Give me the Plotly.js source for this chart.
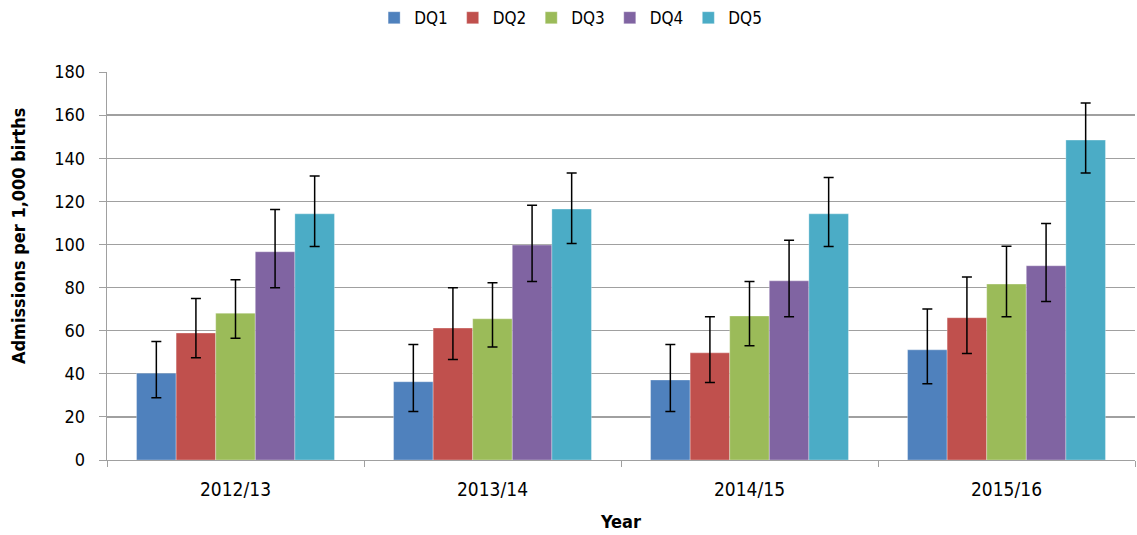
<!DOCTYPE html>
<html>
<head>
<meta charset="utf-8">
<script src="https://cdn.plot.ly/plotly-3.0.1.min.js"></script>
<style>
  html, body { margin: 0; padding: 0; background: #fff; }
  #chart { width: 1137px; height: 535px; }
</style>
</head>
<body>
<div id="chart"></div>
<script>
// ── data ────────────────────────────────────────────────────
const years = ['2012/13', '2013/14', '2014/15', '2015/16'];
const seriesNames = ['DQ1', 'DQ2', 'DQ3', 'DQ4', 'DQ5'];

const dq1 = [40.3, 36.3, 37.1, 51.1];
const dq2 = [58.9, 61.2, 49.7, 66.0];
const dq3 = [68.1, 65.5, 66.8, 81.6];
const dq4 = [96.6, 99.7, 83.1, 90.1];
const dq5 = [114.2, 116.4, 114.2, 148.4];

// upper / lower confidence limits
const dq1Upper = [55.0, 53.6, 53.6, 70.1];
const dq1Lower = [28.9, 22.5, 22.5, 35.4];
const dq2Upper = [74.9, 79.9, 66.4, 84.9];
const dq2Lower = [47.4, 46.6, 36.0, 49.4];
const dq3Upper = [83.6, 82.2, 82.8, 99.2];
const dq3Lower = [56.5, 52.4, 53.0, 66.4];
const dq4Upper = [116.2, 118.2, 102.0, 109.7];
const dq4Lower = [79.9, 82.8, 66.4, 73.5];
const dq5Upper = [131.8, 133.2, 131.0, 165.6];
const dq5Lower = [99.0, 100.4, 99.0, 133.2];

const yTicks = [0, 20, 40, 60, 80, 100, 120, 140, 160, 180];

// ── styling ─────────────────────────────────────────────────
const COLORS = ['#4F81BD', '#C0504D', '#9BBB59', '#8064A2', '#4BACC6'];
const FONT = '"Liberation Sans Narrow", "DejaVu Sans Condensed", "Open Sans", sans-serif';
const GRID = '#a0a0a0';

const values = [dq1, dq2, dq3, dq4, dq5];
const uppers = [dq1Upper, dq2Upper, dq3Upper, dq4Upper, dq5Upper];
const lowers = [dq1Lower, dq2Lower, dq3Lower, dq4Lower, dq5Lower];

const traces = seriesNames.map((name, i) => ({
  type: 'bar',
  name,
  x: years,
  y: values[i],
  marker: { color: COLORS[i], line: { color: 'rgba(255,255,255,0.6)', width: 0.5 } },
  error_y: {
    type: 'data',
    symmetric: false,
    array: uppers[i].map((u, j) => u - values[i][j]),
    arrayminus: values[i].map((v, j) => v - lowers[i][j]),
    color: '#000',
    thickness: 1.5,
    width: 5,
  },
}));

const layout = {
  width: 1137,
  height: 535,
  paper_bgcolor: '#fff',
  plot_bgcolor: '#fff',
  font: { family: FONT, size: 17, color: '#000' },
  margin: { t: 72, b: 75, l: 107, r: 2, autoexpand: false },
  barmode: 'group',
  bargap: 0.23,
  bargroupgap: 0,
  showlegend: true,
  legend: {
    orientation: 'h',
    x: 0.451, xanchor: 'center',
    yref: 'container',
    y: 0.966, yanchor: 'middle',
    font: { family: FONT, size: 17 },
    itemwidth: 30,
    traceorder: 'normal',
  },
  xaxis: {
    type: 'category',
    showline: true, linecolor: GRID, linewidth: 1.3,
    ticks: 'outside', tickson: 'boundaries', ticklen: 6, tickcolor: GRID,
    tickfont: { family: FONT, size: 19 },
    ticklabelstandoff: 12,
    title: { text: '<b>Year</b>', font: { family: FONT, size: 18 }, standoff: 16 },
  },
  yaxis: {
    range: [0, 180],
    tickvals: yTicks,
    showgrid: true, gridcolor: GRID, gridwidth: 1.3,
    zeroline: false,
    showline: true, linecolor: GRID, linewidth: 1.3,
    ticks: 'outside', ticklen: 7, tickcolor: GRID,
    tickfont: { family: FONT, size: 18 },
    ticklabelstandoff: 10,
  },
  // y title placed where the reference has it (slightly above the plot middle)
  annotations: [{
    text: '<b>Admissions per 1,000 births</b>',
    xref: 'paper', yref: 'paper',
    x: -0.0866, y: 0.577,
    xanchor: 'center', yanchor: 'middle',
    textangle: -90,
    showarrow: false,
    font: { family: FONT, size: 18, color: '#000' },
  }],
};

Plotly.newPlot('chart', traces, layout, { displayModeBar: false, staticPlot: true });
</script>
</body>
</html>
